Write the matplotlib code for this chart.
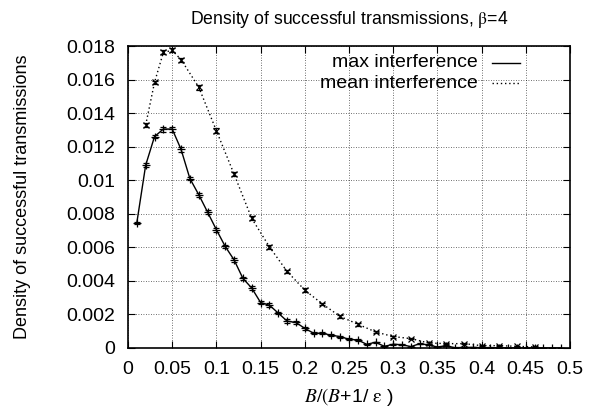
import matplotlib
matplotlib.use("Agg")
import matplotlib.pyplot as plt
from matplotlib.lines import Line2D

plt.rcParams['font.family'] = ['Liberation Sans', 'DejaVu Sans']
plt.rcParams['mathtext.fontset'] = 'stix'

# max interference (solid, + markers)
x_max = [0.01, 0.02, 0.03, 0.04, 0.05, 0.06, 0.07, 0.08, 0.09, 0.10,
         0.11, 0.12, 0.13, 0.14, 0.15, 0.16, 0.17, 0.18, 0.19, 0.20,
         0.21, 0.22, 0.23, 0.24, 0.25, 0.26, 0.27, 0.28, 0.29, 0.30,
         0.31, 0.32, 0.33, 0.34, 0.35, 0.36, 0.37, 0.38, 0.39, 0.40,
         0.41, 0.42, 0.43, 0.44, 0.45, 0.46, 0.47, 0.48, 0.49]
y_max = [0.00747, 0.0109, 0.0126, 0.01305, 0.01305, 0.01184, 0.0101, 0.00914, 0.0081, 0.00705,
         0.00605, 0.00525, 0.00415, 0.00357, 0.00271, 0.00255, 0.00208, 0.0016, 0.00152, 0.00117,
         0.00088, 0.00088, 0.00076, 0.00068, 0.00052, 0.00048, 0.00022, 0.00034, 0.0001, 0.00022,
         0.0002, 0.00008, 0.00026, 0.00018, 0.00006, 0.00014, 0.00001, 0.00004, 0.00003, 0.00002,
         0.00002, 0.00001, 0.00001, 0.00001, 0.0, 0.0, 0.0, 0.0, 0.0]
e_max = [0.00005, 0.0001, 0.0001, 0.00015, 0.00015, 0.00015, 0.0001, 0.00012, 0.00012, 0.00012,
         0.0001, 0.0001, 0.0001, 0.00012, 0.0001, 0.00012, 0.00008, 0.0001, 0.00008, 0.00008,
         0.00006, 0.00006, 0.00006, 0.00006, 0.00005, 0.00005, 0.00004, 0.00004, 0.00003, 0.00003,
         0.00003, 0.00003, 0.00003, 0.00003, 0.00002, 0.00002, 0.00002, 0.00002, 0.00001, 0.00001,
         0.00001, 0.00001, 0.00001, 0.00001, 0.0, 0.0, 0.0, 0.0, 0.0]

# mean interference (dotted, x markers)
x_mean = [0.02, 0.03, 0.04, 0.05, 0.06, 0.08, 0.10, 0.12, 0.14, 0.16,
          0.18, 0.20, 0.22, 0.24, 0.26, 0.28, 0.30, 0.32, 0.34, 0.36,
          0.38, 0.40, 0.42, 0.44, 0.46]
y_mean = [0.01329, 0.01583, 0.01762, 0.01774, 0.01719, 0.01555, 0.01295, 0.01036, 0.00772, 0.00603,
          0.00456, 0.00345, 0.00262, 0.00188, 0.00142, 0.00096, 0.00068, 0.00056, 0.0003, 0.00026,
          0.00026, 0.00014, 0.00014, 0.0001, 0.00006]
e_mean = [0.0001, 0.0001, 0.00012, 0.00012, 0.00012, 0.00015, 0.00015, 0.00012, 0.00012, 0.00012,
          0.0001, 0.0001, 0.00008, 0.00008, 0.00008, 0.00006, 0.00006, 0.00005, 0.00005, 0.00005,
          0.00004, 0.00004, 0.00004, 0.00003, 0.00003]

x_ticks = [0, 0.05, 0.1, 0.15, 0.2, 0.25, 0.3, 0.35, 0.4, 0.45, 0.5]
x_ticklabels = ['0', '0.05', '0.1', '0.15', '0.2', '0.25', '0.3', '0.35', '0.4', '0.45', '0.5']
y_ticks = [0, 0.002, 0.004, 0.006, 0.008, 0.01, 0.012, 0.014, 0.016, 0.018]
y_ticklabels = ['0', '0.002', '0.004', '0.006', '0.008', '0.01', '0.012', '0.014', '0.016', '0.018']

fig = plt.figure(figsize=(5.94, 4.09), dpi=100)
ax = fig.add_axes([128/594, 1-348/409, (570-128)/594, (348-46)/409])

ax.errorbar(x_max, y_max, yerr=e_max, color='black', lw=1.0, ls='-',
            marker='+', ms=5.5, mew=0.9, capsize=2.5, elinewidth=0.8, capthick=0.8, zorder=3)
ax.errorbar(x_mean, y_mean, yerr=e_mean, color='black', lw=1.0, ls=(0, (1, 2)),
            marker='x', ms=4.5, mew=0.9, capsize=2.5, elinewidth=0.8, capthick=0.8, zorder=3)

ax.set_xlim(0, 0.5)
ax.set_ylim(0, 0.018)
ax.set_xticks(x_ticks)
ax.set_xticklabels(x_ticklabels)
ax.set_yticks(y_ticks)
ax.set_yticklabels(y_ticklabels)
ax.tick_params(direction='in', top=True, right=True, length=5, width=0.8, labelsize=14)
ax.tick_params(axis='x', pad=9)
ax.tick_params(axis='y', pad=9)
ax.grid(True, color='black', ls=(0, (1, 2)), lw=0.6, alpha=0.75)
for s in ax.spines.values():
    s.set_linewidth(1.2)

ax.set_title(r'Density of successful transmissions, $\mathrm{β}$=4', fontsize=12.7, pad=16)
ax.set_ylabel('Density of successful transmissions', fontsize=13)
ax.yaxis.set_label_coords(-0.22, 0.5)
ax.set_xlabel(r'$B/(B$+1/ $\mathrm{ε}$ )', fontsize=14)
ax.xaxis.set_label_coords(0.5, -0.125)

# legend (gnuplot style: right-aligned text, sample on the right)
ax.text(0.792, 0.944, 'max interference', transform=ax.transAxes, ha='right', va='center', fontsize=14)
ax.text(0.792, 0.877, 'mean interference', transform=ax.transAxes, ha='right', va='center', fontsize=14)
ax.add_line(Line2D([0.824, 0.887], [0.944, 0.944], transform=ax.transAxes, color='black', lw=1.0))
ax.add_line(Line2D([0.824, 0.887], [0.877, 0.877], transform=ax.transAxes, color='black', lw=1.0, ls=(0, (1, 2))))

fig.savefig('out.png', dpi=100)
